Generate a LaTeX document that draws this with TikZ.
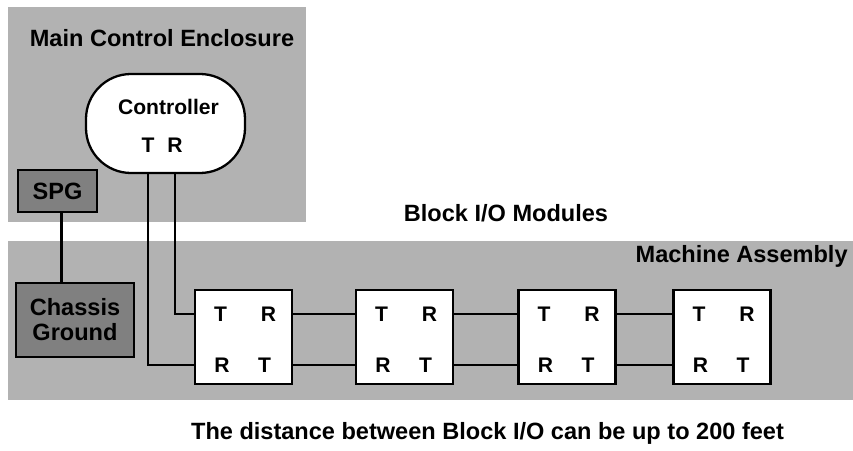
\documentclass[tikz,border=0pt]{standalone}
\usepackage{fontspec}
\setmainfont{Liberation Sans}
\usepackage{tikz}
\usetikzlibrary{calc}

\definecolor{encl}{gray}{0.70}
\definecolor{gnd}{gray}{0.50}

\tikzset{
  wire/.style={line width=1.6pt},
  iobox/.style={draw, fill=white, line width=1.7pt, minimum width=1.94cm, minimum height=1.88cm},
  gndbox/.style={draw, fill=gnd, line width=1.7pt},
  lbl/.style={font=\bfseries\fontsize{12}{14}\selectfont},
}

\begin{document}
\begin{tikzpicture}[every node/.style={font=\bfseries\fontsize{13.4}{14.2}\selectfont, inner sep=0pt}]

\useasboundingbox (0,0) rectangle (17.06,9);

\pgfmathsetmacro{\BY}{2.26}  % centre of the block row
\pgfmathsetmacro{\TY}{0.46}  % upper T/R line
\pgfmathsetmacro{\RY}{-0.56} % lower R/T line

% enclosures
\fill[encl] (0.16,4.56) rectangle (6.12,8.86);
\fill[encl] (0.16,1.0) rectangle (17.06,4.18);
\draw (3.24,8.24) node (mce) {Main Control Enclosure};
\draw (16.96,3.88) node (ma) [left] {Machine Assembly};
\draw (10.12,4.74) node (bio) {Block I/O Modules};

% controller
\draw (3.31,6.53) node (ctrl) [draw, fill=white, line width=1.3pt, rounded corners=0.9cm, minimum width=3.18cm, minimum height=1.98cm] {};
\draw (3.37,6.86) node (ctrlname) [lbl] {Controller};
\draw (2.96,6.1) node (ctrlT) [lbl] {T};
\draw (3.50,6.1) node (ctrlR) [lbl] {R};

% grounding
\draw (1.15,5.18) node (spg) [gndbox, minimum width=1.58cm, minimum height=0.84cm] {SPG};
\draw (1.5,2.6) node (chassis) [gndbox, minimum width=2.36cm, minimum height=1.48cm, align=center] {Chassis\\Ground};
\draw[wire] ($(spg.south)+(0.08,0)$) coordinate (tap) -- (tap |- chassis.north);

% block I/O modules
\draw (4.87,\BY) node (io1) [iobox] {};
\draw (8.09,\BY) node (io2) [iobox] {};
\draw (11.34,\BY) node (io3) [iobox] {};
\draw (14.44,\BY) node (io4) [iobox] {};

\draw ($(io1)+(-0.46,\TY)$) node (io1a) [lbl] {T};
\draw ($(io1)+(0.50,\TY)$) node (io1b) [lbl] {R};
\draw ($(io1)+(-0.43,\RY)$) node (io1c) [lbl] {R};
\draw ($(io1)+(0.42,\RY)$) node (io1d) [lbl] {T};
\draw ($(io2)+(-0.46,\TY)$) node (io2a) [lbl] {T};
\draw ($(io2)+(0.50,\TY)$) node (io2b) [lbl] {R};
\draw ($(io2)+(-0.43,\RY)$) node (io2c) [lbl] {R};
\draw ($(io2)+(0.42,\RY)$) node (io2d) [lbl] {T};
\draw ($(io3)+(-0.46,\TY)$) node (io3a) [lbl] {T};
\draw ($(io3)+(0.50,\TY)$) node (io3b) [lbl] {R};
\draw ($(io3)+(-0.43,\RY)$) node (io3c) [lbl] {R};
\draw ($(io3)+(0.42,\RY)$) node (io3d) [lbl] {T};
\draw ($(io4)+(-0.46,\TY)$) node (io4a) [lbl] {T};
\draw ($(io4)+(0.50,\TY)$) node (io4b) [lbl] {R};
\draw ($(io4)+(-0.43,\RY)$) node (io4c) [lbl] {R};
\draw ($(io4)+(0.42,\RY)$) node (io4d) [lbl] {T};

% wiring
\draw[wire] (ctrlR |- ctrl.south) |- (io1.west |- io1a);
\draw[wire] (ctrlT |- ctrl.south) |- (io1.west |- io1c);
\draw[wire] (io1.east |- io1b) -- (io2.west |- io2a);
\draw[wire] (io1.east |- io1d) -- (io2.west |- io2c);
\draw[wire] (io2.east |- io2b) -- (io3.west |- io3a);
\draw[wire] (io2.east |- io2d) -- (io3.west |- io3c);
\draw[wire] (io3.east |- io3b) -- (io4.west |- io4a);
\draw[wire] (io3.east |- io3d) -- (io4.west |- io4c);

% note
\draw (9.75,0.34) node (dist) {The distance between Block I/O can be up to 200 feet};
\end{tikzpicture}
\end{document}
